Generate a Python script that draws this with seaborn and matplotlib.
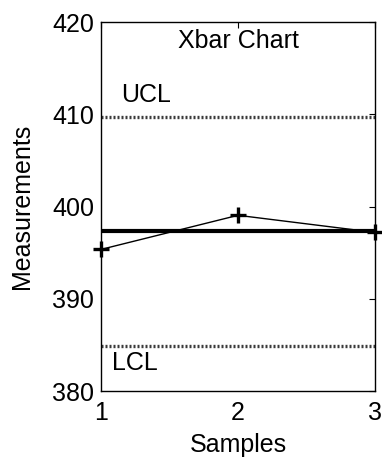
import matplotlib
matplotlib.use("Agg")
import matplotlib.pyplot as plt
import seaborn as sns
import pandas as pd

samples = [1, 2, 3]
means = [395.35, 399.05, 397.2]
center = 397.3
ucl = 409.75
lcl = 384.85
y_ticks = [380, 390, 400, 410, 420]
x_ticks = [1, 2, 3]

sns.set_style("white")
plt.rcParams['font.family'] = ['Liberation Sans', 'DejaVu Sans']
plt.rcParams.update({"text.color": "black", "axes.labelcolor": "black",
                     "xtick.color": "black", "ytick.color": "black"})

fig = plt.figure(figsize=(3.82, 4.59), dpi=100)
ax = fig.add_axes([0.264, 0.148, 0.718, 0.804])

df = pd.DataFrame({"Samples": samples, "Measurements": means})
ax.axhline(ucl, color="#3a3a3a", lw=2.4, ls=(0, (0.6, 0.6)))
ax.axhline(lcl, color="#3a3a3a", lw=2.4, ls=(0, (0.6, 0.6)))
ax.axhline(center, color="black", lw=3)
sns.lineplot(data=df, x="Samples", y="Measurements", ax=ax, color="black", lw=1,
             marker="+", markersize=11, markeredgewidth=2.4,
             markeredgecolor="black", markerfacecolor="black", clip_on=False)

ax.set_xlim(1, 3)
ax.set_ylim(380, 420)
ax.set_xticks(x_ticks)
ax.set_yticks(y_ticks)
ax.tick_params(direction="in", length=4, labelsize=18, top=True, right=True, width=0.8, pad=5)
ax.tick_params(axis="x", pad=7)
for s in ax.spines.values():
    s.set_color("black")
    s.set_linewidth(1)
ax.set_xlabel("Samples", fontsize=18, labelpad=6)
ax.set_ylabel("Measurements", fontsize=18, labelpad=13)
ax.text(2, 417.9, "Xbar Chart", ha="center", va="center", fontsize=18)
ax.text(1.15, 412.1, "UCL", ha="left", va="center", fontsize=18)
ax.text(1.078, 383.0, "LCL", ha="left", va="center", fontsize=18)

fig.savefig("out.png", dpi=100)
